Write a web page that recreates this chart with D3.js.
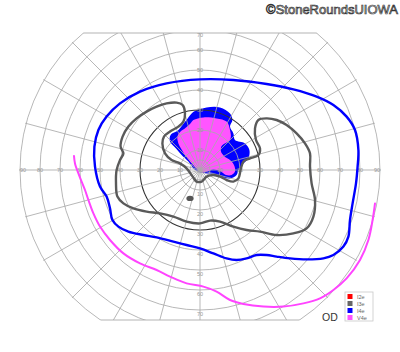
<!DOCTYPE html>
<html>
<head>
<meta charset="utf-8">
<script src="https://cdn.jsdelivr.net/npm/d3@7"></script>
<style>
  body { margin: 0; background: #fff; }
  svg { display: block; font-family: "Liberation Sans", Arial, sans-serif; }
</style>
</head>
<body>
<svg width="400" height="352"></svg>
<script>
// Goldmann isopters, points as [horizontal deg, vertical deg] from fixation
const i4eOuter = [
  [0, 45.3], [-16.7, 43.3], [-30, 39.2], [-40, 33.3], [-46.7, 26.7], [-50.8, 20],
  [-52.8, 11.7], [-52.5, 1.7], [-50, -8.3], [-46.7, -13.3], [-45, -19.2], [-43.8, -25],
  [-40.8, -28.3], [-35.8, -30.8], [-28.3, -32.5], [-21.7, -33.7], [-13.3, -35.8],
  [-6.7, -37.5], [0, -39.2], [6.7, -41.7], [13.3, -44.2], [18.3, -45], [23.3, -44.2],
  [28.3, -42.5], [33.3, -42.5], [38.3, -43.3], [45, -44.2], [53.3, -44.7], [61.7, -44.2],
  [66.7, -42.5], [71.7, -38.3], [74.2, -33.3], [75, -25], [76.3, -16.7], [78, -6.7],
  [78.8, 1.7], [79.2, 10], [77.5, 20], [73.3, 26.7], [66.7, 32.5], [58.3, 36.7],
  [46.7, 40.3], [33.3, 43], [16.7, 45]
];

const v4eOuter = [
  [-63, 7], [-62.5, 3.3], [-60.8, -1.7], [-59.2, -5.8], [-57.5, -10], [-55.8, -15],
  [-53.3, -21.7], [-50, -28.3], [-45, -35], [-38.3, -41.7], [-30, -46.7], [-21.7, -50],
  [-15, -53.3], [-6.7, -56.7], [1.7, -58.3], [8.3, -60.8], [15, -65], [21.7, -67],
  [31.7, -68.3], [41.7, -68.3], [51.7, -66.7], [60, -64.2], [66.7, -60], [73.3, -54.2],
  [80, -45], [84.2, -35], [86.3, -25], [87.5, -16.7]
];

const i3eLoop = [
  [-8.7, 32.5], [-11.7, 33.7], [-16.7, 33.3], [-21.7, 31.7], [-26.7, 29.2], [-31.7, 25.8],
  [-35.8, 21.7], [-38.7, 16.7], [-39.7, 11.7], [-38.3, 8.3], [-40, 5], [-41.7, 0],
  [-42, -6.7], [-41.3, -13.3], [-38.3, -16.7], [-33.3, -19.2], [-26.7, -20.8], [-20, -21.7],
  [-13.3, -23.3], [-6.7, -25.8], [0, -26.7], [5, -25.3], [10, -25.8], [16.7, -28.3],
  [23.3, -30], [30, -30.8], [38.3, -32.5], [46.7, -31.7], [53.3, -29.2], [56.7, -23.3],
  [57.5, -15], [55.8, -6.7], [55, 1.7], [55, 8.3], [52.5, 13.3], [48.3, 18.3], [43.3, 22.5],
  [38.3, 25], [33.3, 25.8], [29.2, 25], [27.5, 20.8], [28, 15], [30, 10.8], [29.2, 7.5],
  [25, 5.8], [21.7, 4.2], [20.3, 0], [19.2, -4.2], [16.7, -5.8], [13.3, -5], [10, -3.3],
  [6.7, -2.5], [3.3, -3.3], [0.8, -5.8], [-1.7, -5.8], [-3.7, -3.3], [-6.7, 0.8],
  [-10, 3.3], [-14.2, 5], [-17.5, 8.3], [-18.8, 13.3], [-18, 16.7], [-15, 19.2],
  [-10.8, 21.7], [-8.3, 24.2], [-7.5, 28.3]
];

// small I3e scotoma: centre and half-sizes in degrees
const i3eSpot = [{ x: -5, y: -14.2, rx: 1.8, ry: 1.3 }];

const i4eArea = [
  [-4.2, 28.3], [-2.5, 29.5], [3.3, 31.3], [10, 31.3], [15, 28.3], [16.2, 25], [15, 21.7],
  [16.7, 18.3], [17.5, 15], [22.5, 13.3], [24.7, 10], [24.2, 5.8], [21.7, 3.3], [19.2, 0],
  [18.3, -2.5], [15, -4.2], [10, -3.3], [6.7, -2], [3.3, -1.7], [0, -1.2], [-3.3, 0.8],
  [-5.8, 4.2], [-9.2, 7.5], [-12, 10.8], [-15, 14.2], [-14.7, 17.5], [-10.8, 20], [-7, 24.7]
];

const v4eArea = [
  [-5, 23], [-3.3, 25], [1.7, 26.3], [8.3, 25.8], [13.3, 24.2], [15, 20], [15.3, 15.8],
  [13.3, 13.7], [10.8, 12], [10.5, 9.2], [12, 7], [15.3, 4.7], [17.2, 2], [17.5, -0.8],
  [15.8, -2.5], [13, -2.5], [10, -0.5], [6.7, 0.3], [3.3, -0.8], [0.8, -1.3], [-1.7, 0.8],
  [-5, 4.2], [-7.5, 7.5], [-9.2, 10.3], [-10.8, 13.3], [-11.3, 16.7], [-9.7, 19.2], [-7.3, 21]
];

const rings = [5, 10, 20, 30, 40, 50, 60, 70, 80, 90];
const sideLabels = [10, 20, 30, 40, 50, 60, 70, 80, 90];
const vertLabels = [10, 20, 30, 40, 50, 60, 70];
const meridians = d3.range(0, 360, 15);
const legendKeys = ["I2e", "I3e", "I4e", "V4e"];
const legendColors = ["#ff0000", "#666666", "#0000ff", "#ff55ff"];

const cx = 200, cy = 170;
const topLimit = 68.5, bottomLimit = 75;   // chart cut-offs, degrees

const svg = d3.select("svg");

const r = d3.scaleLinear().domain([0, 90]).range([0, 180]);
const x = d3.scaleLinear().domain([-90, 90]).range([cx - 180, cx + 180]);
const y = d3.scaleLinear().domain([-90, 90]).range([cy + 180, cy - 180]);

// clip: field circle cut by the top and bottom lines
const defs = svg.append("defs");
defs.append("clipPath").attr("id", "circ")
  .append("circle").attr("cx", cx).attr("cy", cy).attr("r", r(90) + 1);
defs.append("clipPath").attr("id", "band")
  .append("rect").attr("x", 0).attr("y", y(topLimit))
  .attr("width", 400).attr("height", y(-bottomLimit) - y(topLimit));

const line = d3.line().x(d => x(d[0])).y(d => y(d[1]));

// filled central isopters
svg.append("path")
  .attr("d", line.curve(d3.curveCatmullRomClosed)(i4eArea))
  .attr("fill", "#0000ff");
svg.append("path")
  .attr("d", line.curve(d3.curveCatmullRomClosed)(v4eArea))
  .attr("fill", "#ff55ff");

// grid
const grid = svg.append("g").attr("clip-path", "url(#circ)")
  .append("g").attr("clip-path", "url(#band)");

grid.selectAll("circle.ring")
  .data(rings)
  .enter().append("circle")
  .attr("class", "ring")
  .attr("cx", cx).attr("cy", cy)
  .attr("r", d => r(d))
  .attr("fill", "none")
  .attr("stroke", d => d === 30 ? "#333" : "#aaa")
  .attr("stroke-width", d => d === 30 ? 1.1 : 0.85);

grid.selectAll("line.meridian")
  .data(meridians)
  .enter().append("line")
  .attr("class", "meridian")
  .attr("x1", cx).attr("y1", cy)
  .attr("x2", d => x(95 * Math.cos(d * Math.PI / 180)))
  .attr("y2", d => y(95 * Math.sin(d * Math.PI / 180)))
  .attr("stroke", "#aaa")
  .attr("stroke-width", 0.85);

// top and bottom cut lines
[topLimit, -bottomLimit].forEach(v => {
  const half = Math.sqrt(90 * 90 - v * v);
  svg.append("line")
    .attr("x1", x(-half)).attr("x2", x(half))
    .attr("y1", y(v)).attr("y2", y(v))
    .attr("stroke", "#aaa").attr("stroke-width", 0.9);
});

// degree labels
const lab = svg.append("g")
  .attr("font-size", 5.5)
  .attr("fill", "#999")
  .attr("text-anchor", "middle");

sideLabels.forEach(d => {
  const shift = d === 90 ? 3 : 0;
  lab.append("text").attr("x", x(-d) + shift).attr("y", cy + 2).text(d);
  lab.append("text").attr("x", x(d) - shift).attr("y", cy + 2).text(d);
});
vertLabels.forEach(d => {
  lab.append("text").attr("x", cx).attr("y", Math.max(y(d) + 2, y(topLimit) + 4)).text(d);
  lab.append("text").attr("x", cx).attr("y", y(-d) + 6).text(d);
});

// isopter outlines
svg.append("path")
  .attr("d", line.curve(d3.curveCatmullRomClosed)(i3eLoop))
  .attr("fill", "none")
  .attr("stroke", "#5a5a5a")
  .attr("stroke-width", 2.4)
  .attr("stroke-linejoin", "round");

svg.selectAll("ellipse.spot")
  .data(i3eSpot)
  .enter().append("ellipse")
  .attr("class", "spot")
  .attr("cx", d => x(d.x)).attr("cy", d => y(d.y))
  .attr("rx", d => r(d.rx)).attr("ry", d => r(d.ry))
  .attr("fill", "#555");

svg.append("path")
  .attr("d", line.curve(d3.curveCatmullRomClosed)(i4eOuter))
  .attr("fill", "none")
  .attr("stroke", "#0000ff")
  .attr("stroke-width", 2.4)
  .attr("stroke-linejoin", "round");

svg.append("path")
  .attr("d", line.curve(d3.curveCatmullRom)(v4eOuter))
  .attr("fill", "none")
  .attr("stroke", "#ff44ff")
  .attr("stroke-width", 2)
  .attr("stroke-linecap", "round");

// legend
const leg = svg.append("g").attr("transform", "translate(345,292)");
leg.append("rect")
  .attr("width", 28).attr("height", 29)
  .attr("fill", "#fff").attr("stroke", "#c8c8c8").attr("stroke-width", 0.8);
legendKeys.forEach((k, i) => {
  leg.append("rect")
    .attr("x", 2.5).attr("y", 2 + i * 7)
    .attr("width", 5).attr("height", 5)
    .attr("fill", legendColors[i]);
  leg.append("text")
    .attr("x", 12).attr("y", 6.5 + i * 7)
    .attr("font-size", 5.5)
    .attr("fill", "#666")
    .text(k);
});

svg.append("text")
  .attr("x", 322).attr("y", 321)
  .attr("font-size", 10.5)
  .attr("fill", "#333")
  .text("OD");

// watermark
svg.append("text")
  .attr("x", 398).attr("y", 13.5)
  .attr("text-anchor", "end")
  .attr("font-size", 13)
  .attr("fill", "#e8e8e8")
  .attr("stroke", "#333")
  .attr("stroke-width", 0.7)
  .text("\u00a9StoneRoundsUIOWA");
</script>
</body>
</html>
